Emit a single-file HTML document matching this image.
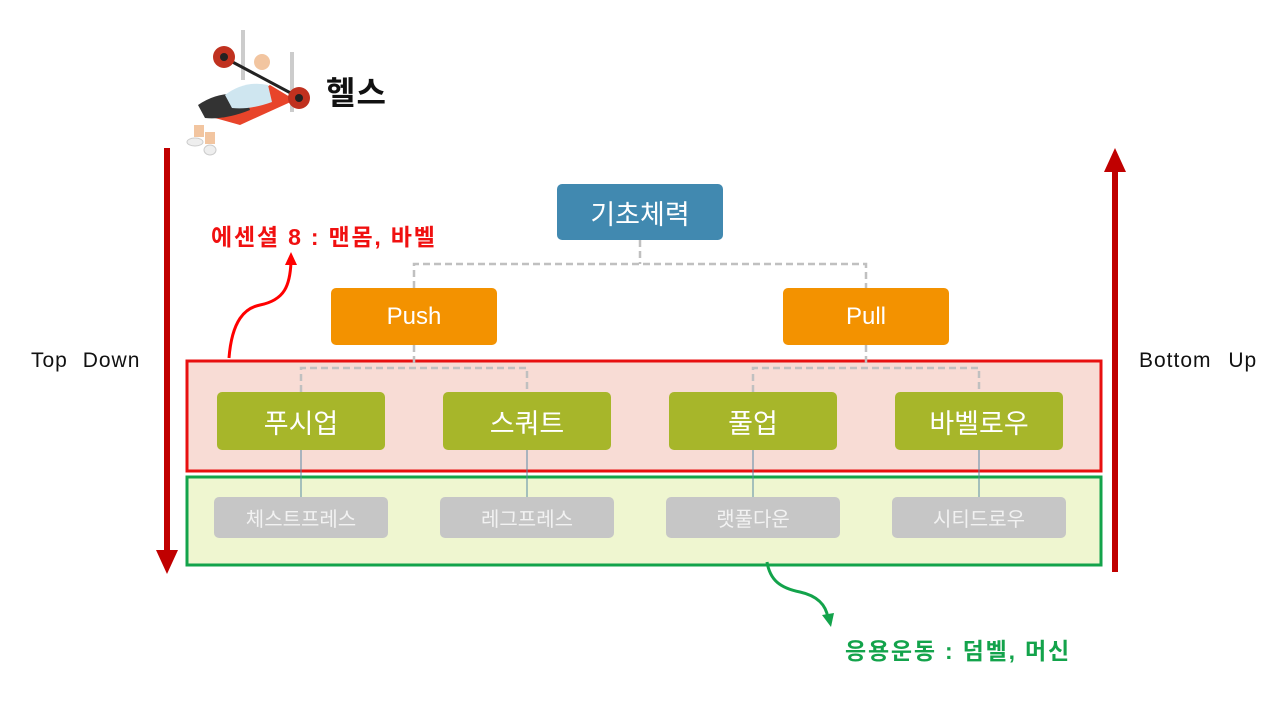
<!DOCTYPE html>
<html><head><meta charset="utf-8"><style>
body{margin:0;width:1280px;height:720px;background:#fff;position:relative;overflow:hidden;font-family:"Liberation Sans","Noto Sans CJK KR",sans-serif}
.b{position:absolute;display:flex;align-items:center;justify-content:center;border-radius:5px;color:#fff}
.t{position:absolute;white-space:nowrap}
</style></head><body>
<svg width="1280" height="720" style="position:absolute;left:0;top:0">
<rect x="187" y="361" width="914" height="110" fill="#f8dcd5" stroke="#e81010" stroke-width="3"/>
<rect x="187" y="477" width="914" height="88" fill="#eff6d0" stroke="#13a34b" stroke-width="3"/>
<g stroke="#c0c0c0" stroke-width="2.5" stroke-dasharray="7,4" fill="none">
<path d="M640 240V264M414 288V264H866V288"/>
<path d="M414 345V368M301 392V368H527V392"/>
<path d="M866 345V368M753 392V368H979V392"/>
</g>
<g stroke="#5a8aa6" stroke-width="1">
<path d="M301 450V497M527 450V497M753 450V497M979 450V497"/>
</g>
<line x1="167" y1="148" x2="167" y2="552" stroke="#c00000" stroke-width="6"/>
<polygon points="156,550 178,550 167,574" fill="#c00000"/>
<line x1="1115" y1="572" x2="1115" y2="170" stroke="#c00000" stroke-width="6"/>
<polygon points="1104,172 1126,172 1115,148" fill="#c00000"/>
<path d="M229 358 C232 320 245 308 260 305 C285 300 290 285 291 262" stroke="#f00" stroke-width="3" fill="none"/>
<polygon points="285,265 297,265 291,252" fill="#f00"/>
<path d="M767 562 C770 580 780 588 800 592 C818 596 826 605 828 618" stroke="#13a34b" stroke-width="3" fill="none"/>
<polygon points="822,615 834,613 831,627" fill="#13a34b"/>
<g>
<rect x="241" y="30" width="4" height="50" fill="#ccc"/><rect x="290" y="52" width="4" height="60" fill="#ccc"/>
<path d="M215 118 L270 85 L295 100 L240 125Z" fill="#e8442a"/>
<path d="M198 105 Q220 90 245 95 L250 110 Q225 120 205 118Z" fill="#333"/>
<path d="M225 95 Q245 80 268 85 L272 102 Q250 110 232 108Z" fill="#cfe6f0"/>
<circle cx="262" cy="62" r="8" fill="#f2c5a0"/>
<line x1="225" y1="58" x2="300" y2="98" stroke="#222" stroke-width="3"/>
<circle cx="224" cy="57" r="11" fill="#c0311f"/><circle cx="299" cy="98" r="11" fill="#c0311f"/>
<circle cx="224" cy="57" r="4" fill="#222"/><circle cx="299" cy="98" r="4" fill="#222"/>
<rect x="194" y="125" width="10" height="12" fill="#f2c5a0"/><rect x="205" y="132" width="10" height="12" fill="#f2c5a0"/>
<ellipse cx="195" cy="142" rx="8" ry="4" fill="#eee" stroke="#ccc"/><ellipse cx="210" cy="150" rx="6" ry="5" fill="#eee" stroke="#ccc"/>
</g>
</svg>
<div class="t" style="left:326px;top:68px;font-size:32px;font-weight:bold;color:#111;letter-spacing:1px">헬스</div>
<div class="t" style="left:211px;top:218px;font-size:23px;font-weight:bold;color:#f01010;letter-spacing:1.8px">에센셜 8 : 맨몸, 바벨</div>
<div class="t" style="left:845px;top:632px;font-size:23px;font-weight:bold;color:#13a34b;letter-spacing:1.8px">응용운동 : 덤벨, 머신</div>
<div class="t" style="left:31px;top:349px;font-size:21px;color:#111;letter-spacing:1px;word-spacing:8px">Top Down</div>
<div class="t" style="left:1139px;top:349px;font-size:21px;color:#111;letter-spacing:1px;word-spacing:10px">Bottom Up</div>
<div class="b" style="left:557px;top:184px;width:166px;height:56px;background:#4189b0;font-size:27px">기초체력</div>
<div class="b" style="left:331px;top:288px;width:166px;height:57px;background:#f39200;font-size:24px">Push</div>
<div class="b" style="left:783px;top:288px;width:166px;height:57px;background:#f39200;font-size:24px">Pull</div>
<div class="b" style="left:217px;top:392px;width:168px;height:58px;background:#a7b62a;font-size:27px">푸시업</div>
<div class="b" style="left:443px;top:392px;width:168px;height:58px;background:#a7b62a;font-size:27px">스쿼트</div>
<div class="b" style="left:669px;top:392px;width:168px;height:58px;background:#a7b62a;font-size:27px">풀업</div>
<div class="b" style="left:895px;top:392px;width:168px;height:58px;background:#a7b62a;font-size:27px">바벨로우</div>
<div class="b" style="left:214px;top:497px;width:174px;height:41px;background:#c6c6c6;font-size:20px;color:#f2f2f2">체스트프레스</div>
<div class="b" style="left:440px;top:497px;width:174px;height:41px;background:#c6c6c6;font-size:20px;color:#f2f2f2">레그프레스</div>
<div class="b" style="left:666px;top:497px;width:174px;height:41px;background:#c6c6c6;font-size:20px;color:#f2f2f2">랫풀다운</div>
<div class="b" style="left:892px;top:497px;width:174px;height:41px;background:#c6c6c6;font-size:20px;color:#f2f2f2">시티드로우</div>
</body></html>
